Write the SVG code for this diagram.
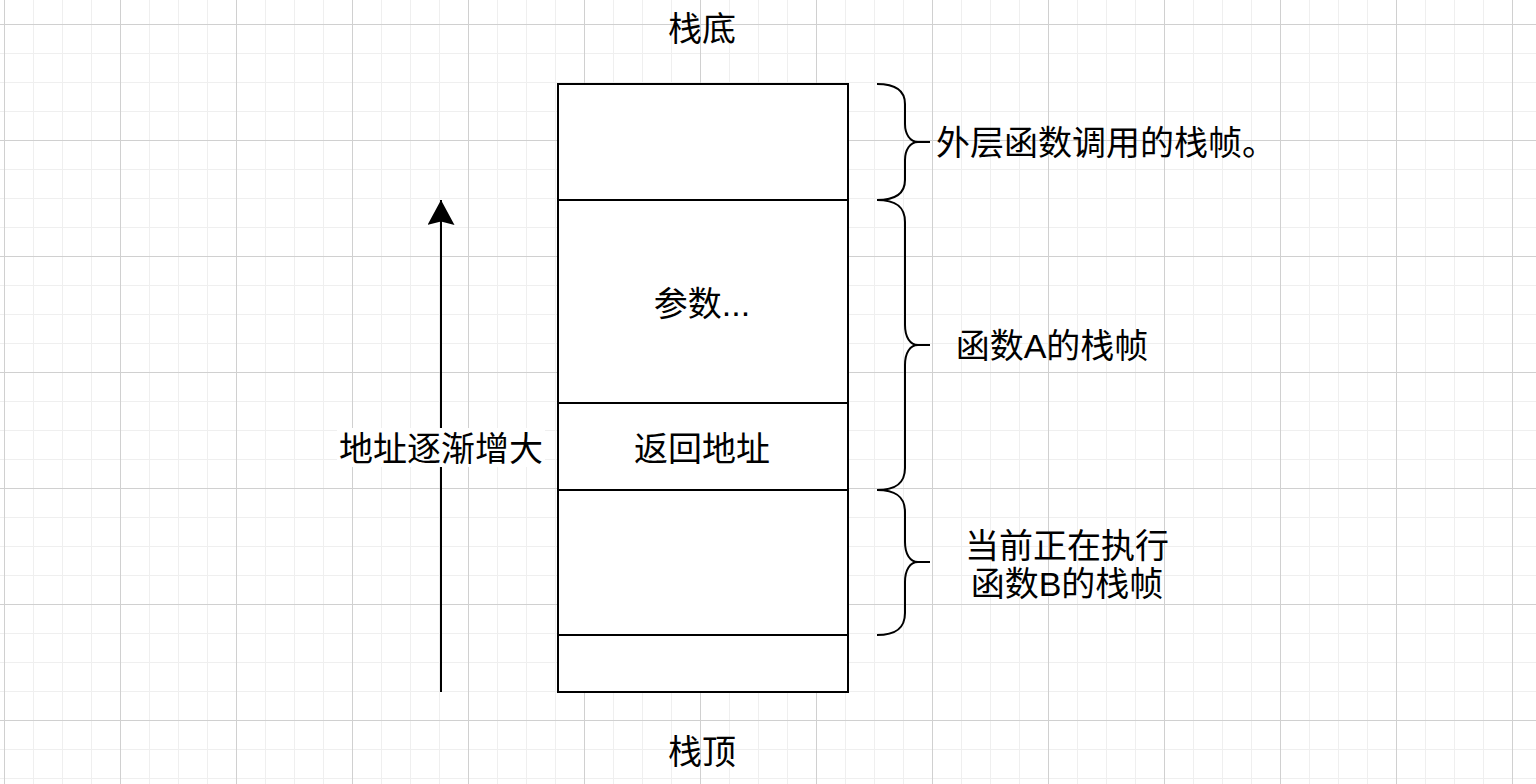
<svg xmlns="http://www.w3.org/2000/svg" width="1536" height="784" viewBox="0 0 1536 784">
  <defs>
    <pattern id="grid" patternUnits="userSpaceOnUse" x="4" y="24" width="116" height="116">
      <path d="M29.5,0V116M58.5,0V116M87.5,0V116M0,29.5H116M0,58.5H116M0,87.5H116" stroke="#efefef" stroke-width="1" fill="none"/>
      <path d="M0.5,0V116M0,0.5H116" stroke="#d0d0d0" stroke-width="1" fill="none"/>
    </pattern>
    <marker id="arrow" markerUnits="userSpaceOnUse" markerWidth="30" markerHeight="30" refX="25" refY="13.5" orient="auto" viewBox="0 0 30 30">
      <path d="M0,0 L25,13.5 L0,27 L3.5,13.5 Z" fill="#000"/>
    </marker>
    <style>
      .box { fill: #fff; stroke: #000; stroke-width: 2; }
      .brace { fill: none; stroke: #000; stroke-width: 2; }
      .t { font-family: "Liberation Sans", "Noto Sans CJK SC", sans-serif; font-size: 34px; fill: #000; }
      .c { text-anchor: middle; }
    </style>
  </defs>

  <rect x="0" y="0" width="1536" height="784" fill="#fff"/>
  <rect x="0" y="0" width="1536" height="784" fill="url(#grid)"/>

  <g id="label-bottom-of-stack"><text class="t c" x="702" y="41">栈底</text></g>
  <g id="label-top-of-stack"><text class="t c" x="702" y="764">栈顶</text></g>

  <g id="frame-outer"><rect class="box" x="558" y="84" width="290" height="116"/></g>
  <g id="frame-params"><rect class="box" x="558" y="200" width="290" height="203"/><text class="t c" x="702" y="316">参数...</text></g>
  <g id="frame-return"><rect class="box" x="558" y="403" width="290" height="87"/><text class="t c" x="702" y="461">返回地址</text></g>
  <g id="frame-b"><rect class="box" x="558" y="490" width="290" height="145"/></g>
  <g id="frame-bottom"><rect class="box" x="558" y="635" width="290" height="57"/></g>

  <g id="connectors">
    <line x1="441" y1="692" x2="441" y2="200" stroke="#000" stroke-width="2" marker-end="url(#arrow)"/>
  </g>

  <g id="label-address">
    <rect x="337" y="428" width="208" height="39" fill="#fff"/>
    <text class="t c" x="441" y="461">地址逐渐增大</text>
  </g>

  <g id="brace-outer">
    <path class="brace" d="M877,84 C895,84 905,90 905,104 L905,124 C905,134 910,142 918,142 L930,142 M918,142 C910,142 905,150 905,160 L905,180 C905,194 895,200 877,200"/>
    <text class="t" x="936" y="155">外层函数调用的栈帧。</text>
  </g>
  <g id="brace-a">
    <path class="brace" d="M877,200 C895,200 905,206 905,222 L905,325 C905,337 910,345 918,345 L930,345 M918,345 C910,345 905,353 905,365 L905,468 C905,484 895,490 877,490"/>
    <text class="t c" x="1052" y="358">函数A的栈帧</text>
  </g>
  <g id="brace-b">
    <path class="brace" d="M877,490 C895,490 905,496 905,512 L905,542 C905,554 910,562 918,562 L930,562 M918,562 C910,562 905,570 905,582 L905,613 C905,629 895,635 877,635"/>
    <text class="t c" x="1067" y="558">当前正在执行</text>
    <text class="t c" x="1067" y="596">函数B的栈帧</text>
  </g>
</svg>
